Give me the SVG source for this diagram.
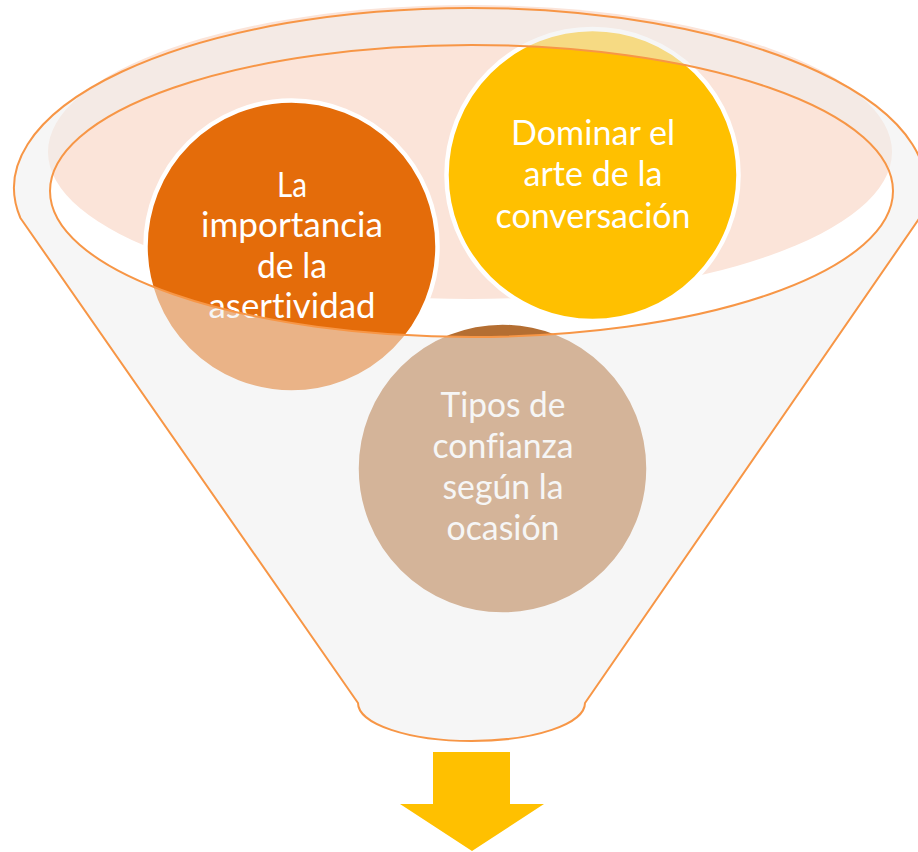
<svg xmlns="http://www.w3.org/2000/svg" width="918" height="852" viewBox="0 0 918 852">
  <style>
    .lbl { font-family: Lato, "Open Sans", "Liberation Sans", sans-serif; font-size: 35px; fill: #ffffff; text-anchor: middle; font-variant-ligatures: none; font-feature-settings: "liga" 0, "dlig" 0; }
    .node { stroke: #ffffff; stroke-width: 4.5; }
    .rim { fill: none; stroke: #f79646; stroke-width: 2; stroke-linejoin: round; }
  </style>
  <rect x="0" y="0" width="918" height="852" fill="#ffffff"/>
  <!-- pink inner glow ellipse -->
  <ellipse id="funnel-top" cx="470" cy="152" rx="422" ry="147" fill="#fbe4d9"/>

  <g id="node-asertividad">
    <circle class="node" cx="291.5" cy="246.5" r="146" fill="#e46c0a"/>
    <text class="lbl" x="292" y="197" textLength="30" lengthAdjust="spacingAndGlyphs">La</text>
    <text class="lbl" x="292" y="237" textLength="182" lengthAdjust="spacingAndGlyphs">importancia</text>
    <text class="lbl" x="292" y="278" textLength="70" lengthAdjust="spacingAndGlyphs">de la</text>
    <text class="lbl" x="292" y="318" textLength="167" lengthAdjust="spacingAndGlyphs">asertividad</text>
  </g>

  <g id="node-conversacion">
    <circle class="node" cx="592.5" cy="175" r="146" fill="#ffc000"/>
    <text class="lbl" x="593" y="145" textLength="164" lengthAdjust="spacingAndGlyphs">Dominar el</text>
    <text class="lbl" x="593" y="186" textLength="139" lengthAdjust="spacingAndGlyphs">arte de la</text>
    <text class="lbl" x="593" y="228" textLength="195" lengthAdjust="spacingAndGlyphs">conversación</text>
  </g>

  <g id="node-confianza">
    <circle class="node" cx="502.5" cy="468.5" r="146" fill="#b46e32"/>
    <text class="lbl" x="503" y="417" textLength="125" lengthAdjust="spacingAndGlyphs">Tipos de</text>
    <text class="lbl" x="503" y="458" textLength="141" lengthAdjust="spacingAndGlyphs">confianza</text>
    <text class="lbl" x="503" y="499" textLength="121" lengthAdjust="spacingAndGlyphs">según la</text>
    <text class="lbl" x="503" y="540" textLength="113" lengthAdjust="spacingAndGlyphs">ocasión</text>
  </g>

  <g id="funnel">
    <path d="M 20.4,218 A 456 180 0 1 1 919.6,218 L 585,703 A 113.5 38 0 0 1 358,703 Z M 50,191 A 421.5 146 0 1 0 893,191 A 421.5 146 0 1 0 50,191 Z" fill="#eeeeee" fill-opacity="0.55" fill-rule="evenodd"/>
    <path class="rim" d="M 20.4,218 A 456 180 0 1 1 919.6,218 L 585,703 A 113.5 38 0 0 1 358,703 Z"/>
    <ellipse class="rim" cx="471.5" cy="191" rx="421.5" ry="146"/>
  </g>

  <g id="connectors">
    <polygon points="433,752 510,752 510,804 544,804 472,851 400,804 433,804" fill="#ffc000"/>
  </g>
</svg>
